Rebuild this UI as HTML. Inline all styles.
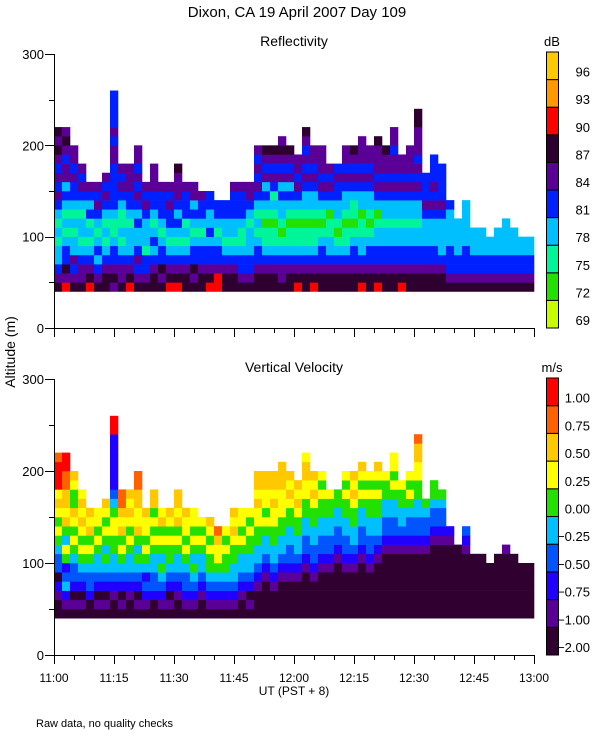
<!DOCTYPE html>
<html><head><meta charset="utf-8">
<style>
html,body{margin:0;padding:0;background:#fff;}
svg{display:block;font-family:"Liberation Sans",sans-serif;}
</style></head>
<body>
<svg id="chart" width="600" height="750" viewBox="0 0 600 750" xmlns="http://www.w3.org/2000/svg">
<text x="297" y="17" font-size="15" text-anchor="middle">Dixon, CA 19 April 2007  Day 109</text>
<text x="294" y="46" font-size="14" text-anchor="middle">Reflectivity</text>
<text x="294" y="372" font-size="14" text-anchor="middle">Vertical Velocity</text>
<text transform="translate(15,352) rotate(-90)" font-size="14" text-anchor="middle">Altitude (m)</text>
<text x="294" y="695" font-size="12" text-anchor="middle">UT  (PST + 8)</text>
<text x="36" y="727" font-size="11">Raw data, no quality checks</text>
<text x="552" y="46" font-size="13" text-anchor="middle">dB</text>
<text x="552" y="372" font-size="13" text-anchor="middle">m/s</text>
</svg>
<script>
// time axis: minutes after 11:00, columns are 2-minute bins
const xTickLabels = ["11:00","11:15","11:30","11:45","12:00","12:15","12:30","12:45","13:00"];
const yTickValues = [0,100,200,300];
const gateBase = 40, gateSize = 10, colMinutes = 2;
const zLabels = ["69","72","75","78","81","84","87","90","93","96"];
const zColors = ["#c8ff00","#22e000","#00f59a","#00bfff","#0020ff","#5a0096","#2d0030","#ff0000","#ff9900","#ffc800"];
const vLabels = ["\u22122.00","\u22121.00","\u22120.75","\u22120.50","\u22120.25","0.00","0.25","0.50","0.75","1.00"];
const vColors = ["#300030","#5a0096","#2000ff","#0055ff","#00bfff","#22e000","#ffff00","#ffc800","#ff6000","#ff0000"];
// reflectivity class per gate (bottom->top), one string per 2-min column
const zData = ["654332323454545656","756443232343554565","6545332323445455","65543233234545","765432324345","654343234545","6654323234545","5654432234444455454444","65543232234545","76543332344555","6545433434545455","654423334545","66543432344555","656443234445","765432344545","76543234345556","665432324445","656443234355","66544323445","76544343344","7754432344","6654323344","665432334445","654432234445","654433323455","6654432323454545","6654322123435456","6654322123245456","65543212334354565","6654322123435456","765432212345455","665432212334545456","7654322123345455","6654432123454555","66543322134545","66543212334454","6654322123345455","6654432122345456","76543322133454555","6654432123345455","76544332134545556","6654433233454556","665443323345455455","765443323345455","6654433233454555","66544332334545455566","6654433345444","665443334545444","66543333454444","6544433334","65443333","6544433333","6544333","6544333","654433","6544333","65443333","6544333","654433","654433"];
// velocity class per gate (bottom->top)
const vData = ["001203345656769998","012432564576778899","0102334565675567","01023456567676","002334565767","010234456566","0102345456567","0012344556654322222299","01023456576788","00123445656767","0102345457667788","012324565667","00233445656577","012345456576","010234556567","00123445657677","012334565667","012345456566","00123445656","01234556567","0123456678","0123455656","012344556767","001234456566","010234455656","0001234455667677","0000123445656677","0001234455667677","00001234455666777","0000123344556767","000012344556767","000001233445566776","0000123344556767","0000012334455656","00000123344556","00000012334455","0000012334455656","0000012344556767","00000012334456567","0000012334455656","00000012344556567","0000000123344556","000000012334456566","000000012344556","0000000123345656","00000001233445566778","0000000123345","000000001233455","00000000123345","0000000012","00000000","0000000123","0000000","0000000","000000","0000000","00000001","0000000","000000","000000"];

const NS="http://www.w3.org/2000/svg";
const svg=document.getElementById('chart');
const X0=54,X1=534;
const xScale=m=>X0+(X1-X0)*m/120;
function mk(tag,attrs,parent){const e=document.createElementNS(NS,tag);for(const k in attrs)e.setAttribute(k,attrs[k]);(parent||svg).appendChild(e);return e;}

function panel(name,y0,y300,data,colors,labels,barTop){
  const yScale=a=>y0-(y0-y300)*a/300;
  const g=mk('g',{});
  
  
  data.forEach((s,ci)=>{
    const xa=xScale(ci*colMinutes), xb=xScale((ci+1)*colMinutes);
    for(let k=0;k<s.length;k++){
      const idx=+s[k];
      const a0=gateBase+k*gateSize,a1=a0+gateSize;
      const r=mk('rect',{x:xa,y:yScale(a1),width:xb-xa+0.3,height:yScale(a0)-yScale(a1)+0.3,fill:colors[idx]},g);
      
      
    }
  });
  const ax=mk('g',{stroke:'#000','stroke-width':1,fill:'none'});
  
  
  mk('line',{x1:X0+.5,y1:y300,x2:X0+.5,y2:y0+.5},ax);
  mk('line',{x1:X0,y1:y0+.5,x2:X1+.5,y2:y0+.5},ax);
  for(let a=0;a<=300;a+=50){const y=Math.round(yScale(a))+.5;mk('line',{x1:X0-(a%100?5:9),y1:y,x2:X0,y2:y},ax);}
  yTickValues.forEach(v=>{
    const t=mk('text',{x:X0-10,y:yScale(v)+5,'font-size':13,'text-anchor':'end'});
    t.textContent=v;
    
    
  });
  for(let m=0;m<=120;m+=5){const x=Math.round(xScale(m))+.5;mk('line',{x1:x,y1:y0,x2:x,y2:y0+(m%15?5:9)},ax);}
  const bh=(y0-barTop)/10;
  colors.forEach((c,i)=>{
    const yb=y0-(i+1)*bh;
    const r=mk('rect',{x:546.5,y:yb,width:12,height:bh,fill:c,stroke:'#000','stroke-width':1});
    
    
    const t=mk('text',{x:590,y:yb+bh-3,'font-size':13,'text-anchor':'end'});
    t.textContent=labels[i];
    
    
  });
}
panel('reflectivity',328,54,zData,zColors,zLabels,52);
panel('velocity',655,379,vData,vColors,vLabels,378);
xTickLabels.forEach((l,i)=>{
  const t=mk('text',{x:xScale(i*15),y:682,'font-size':12,'text-anchor':'middle'});
  t.textContent=l;
  
  
});
</script>
</body></html>
